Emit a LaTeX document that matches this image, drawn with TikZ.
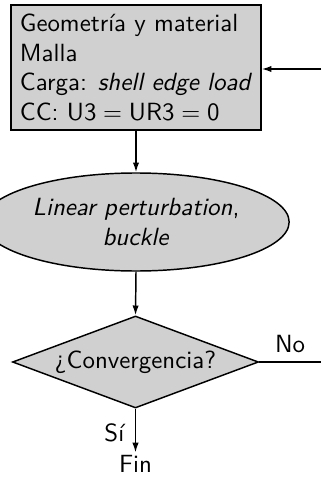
\documentclass[tikz,border=0pt]{standalone}
\usetikzlibrary{shapes.geometric,arrows.meta}
\definecolor{boxgray}{RGB}{208,208,208}
\begin{document}
\begin{tikzpicture}[x=0.41pt,y=-0.41pt,
  every node/.style={font=\sffamily\fontsize{10.2}{12.2}\selectfont},
  base/.style={draw, fill=boxgray, line width=0.6pt, inner sep=2pt},
  procbox/.style={base, rectangle, align=left, minimum width=0.41*250pt, minimum height=0.41*125pt},
  procell/.style={base, ellipse, align=center, minimum width=0.41*244pt, minimum height=0.41*98pt},
  decision/.style={base, diamond, aspect=2.67, align=center, minimum width=0.41*246pt, minimum height=0.41*92pt, inner sep=0pt},
  conn/.style={line width=0.6pt, -{Latex[length=4pt,width=2.6pt]}},
  plain/.style={line width=0.6pt}
]
\useasboundingbox (0,0) rectangle (321,477);
\node[procbox] (geo) at (136,67.5) {Geometría y material\\Malla\\Carga: \textit{shell edge load}\\CC: U3${}={}$UR3${}={}$0};
\node[procell] (lin) at (136,222) {\textit{Linear perturbation},\\\textit{buckle}};
\node[decision] (conv) at (135.5,362) {¿Convergencia?};
\node[inner sep=1pt] (fin) at (135.5,464) {Fin};
\coordinate (inR) at (321,69);
\coordinate (noR) at (321,362);
\draw[conn] (inR) -- (inR -| geo.east);
\draw[conn] (geo.south -| lin.north) -- (lin.north);
\draw[conn] (lin.south) -- (conv.north);
\draw[plain] (conv.east) -- node[above, pos=0.5] {No} (noR);
\draw[conn] (conv.south) -- node[left, pos=0.55, xshift=-1pt] {Sí} (fin.north);
\end{tikzpicture}
\end{document}
